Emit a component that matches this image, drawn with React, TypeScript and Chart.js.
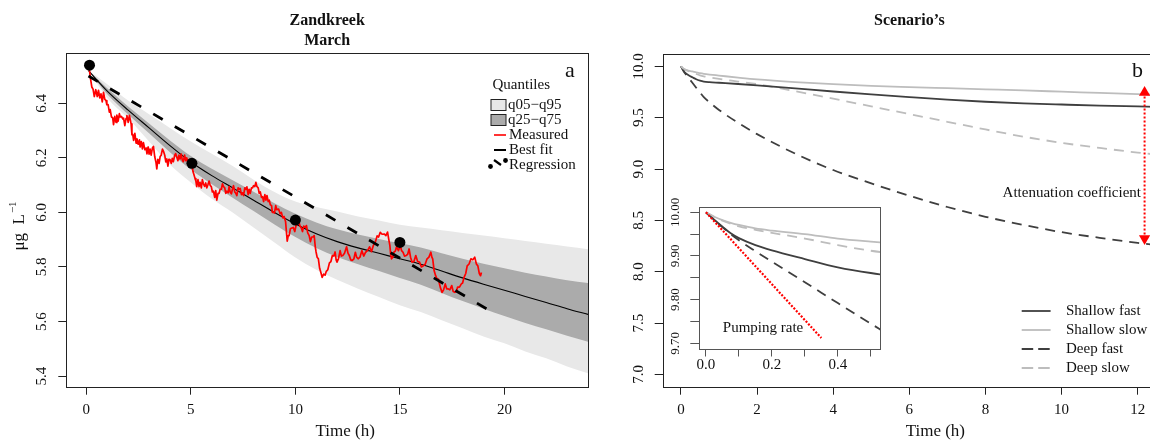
import React, { useEffect, useRef } from 'react';
import { Chart, registerables } from 'chart.js';

Chart.register(...registerables);

const SERIF = "'Liberation Serif', 'Times New Roman', Times, serif";
const INK = '#111111';

// ---------------- Panel a : Zandkreek, March ----------------
const bandTime = [0.1, 1, 2, 3, 4, 5, 6, 7, 8, 9, 10, 11, 12, 13, 14, 15, 16, 17, 18, 19, 20, 21, 22, 23, 24];
const bestFit = [6.52, 6.445, 6.375, 6.31, 6.245, 6.185, 6.135, 6.09, 6.045, 6.0, 5.958, 5.922, 5.893, 5.87, 5.85, 5.83, 5.81, 5.785, 5.76, 5.737, 5.715, 5.692, 5.67, 5.647, 5.626];
const q95 = [6.52, 6.47, 6.41, 6.36, 6.31, 6.26, 6.215, 6.17, 6.12, 6.075, 6.04, 6.02, 6.003, 5.985, 5.97, 5.955, 5.945, 5.935, 5.925, 5.915, 5.905, 5.895, 5.885, 5.875, 5.865];
const q75 = [6.52, 6.455, 6.388, 6.326, 6.264, 6.207, 6.16, 6.118, 6.076, 6.034, 5.995, 5.963, 5.938, 5.919, 5.903, 5.887, 5.871, 5.85, 5.83, 5.812, 5.795, 5.779, 5.765, 5.751, 5.741];
const q25 = [6.52, 6.433, 6.359, 6.29, 6.221, 6.157, 6.103, 6.054, 6.005, 5.956, 5.91, 5.87, 5.837, 5.81, 5.785, 5.76, 5.735, 5.705, 5.675, 5.647, 5.62, 5.595, 5.572, 5.548, 5.526];
const q05 = [6.52, 6.42, 6.345, 6.26, 6.175, 6.11, 6.05, 6.0, 5.945, 5.89, 5.835, 5.79, 5.753, 5.72, 5.69, 5.66, 5.635, 5.605, 5.575, 5.545, 5.52, 5.49, 5.465, 5.435, 5.41];

const measured: [number, number][] = [
  [0.10, 6.54], [0.15, 6.52], [0.20, 6.49], [0.26, 6.46], [0.32, 6.452], [0.38, 6.425], [0.45, 6.45], [0.52, 6.425],
  [0.58, 6.448], [0.64, 6.42], [0.70, 6.435], [0.76, 6.405], [0.82, 6.44], [0.88, 6.415], [0.94, 6.41], [0.98, 6.395],
  [1.04, 6.395], [1.10, 6.368], [1.14, 6.377], [1.20, 6.35], [1.26, 6.347], [1.30, 6.322], [1.36, 6.352], [1.42, 6.33],
  [1.46, 6.357], [1.52, 6.335], [1.58, 6.362], [1.62, 6.35], [1.68, 6.352], [1.74, 6.343], [1.78, 6.346], [1.84, 6.318],
  [1.90, 6.345], [1.94, 6.355], [2.00, 6.33], [2.06, 6.356], [2.10, 6.34], [2.14, 6.325], [2.18, 6.285], [2.22, 6.286],
  [2.26, 6.264], [2.32, 6.29], [2.38, 6.254], [2.42, 6.27], [2.48, 6.25], [2.54, 6.266], [2.57, 6.24], [2.63, 6.26],
  [2.68, 6.233], [2.73, 6.256], [2.80, 6.23], [2.86, 6.236], [2.90, 6.215], [2.96, 6.24], [3.00, 6.214], [3.05, 6.232],
  [3.10, 6.21], [3.16, 6.236], [3.21, 6.242], [3.27, 6.205], [3.33, 6.184], [3.37, 6.16], [3.42, 6.195], [3.48, 6.18],
  [3.53, 6.205], [3.58, 6.21], [3.64, 6.232], [3.69, 6.224], [3.75, 6.21], [3.80, 6.185], [3.85, 6.196], [3.90, 6.17],
  [3.95, 6.195], [4.00, 6.194], [4.06, 6.18], [4.11, 6.198], [4.16, 6.186], [4.22, 6.208], [4.27, 6.216], [4.32, 6.204],
  [4.38, 6.19], [4.43, 6.21], [4.48, 6.196], [4.54, 6.214], [4.59, 6.192], [4.64, 6.186], [4.70, 6.21], [4.75, 6.19],
  [4.80, 6.2], [4.86, 6.18], [4.92, 6.195], [4.98, 6.17], [5.04, 6.184], [5.10, 6.15], [5.16, 6.135], [5.20, 6.124],
  [5.24, 6.115], [5.28, 6.095], [5.34, 6.12], [5.39, 6.095], [5.44, 6.11], [5.50, 6.09], [5.55, 6.12], [5.60, 6.105],
  [5.66, 6.096], [5.71, 6.108], [5.76, 6.09], [5.82, 6.103], [5.87, 6.115], [5.92, 6.1], [5.98, 6.094], [6.03, 6.075],
  [6.08, 6.078], [6.14, 6.055], [6.19, 6.08], [6.24, 6.045], [6.30, 6.07], [6.35, 6.07], [6.40, 6.085], [6.46, 6.085],
  [6.51, 6.105], [6.56, 6.095], [6.62, 6.09], [6.67, 6.07], [6.72, 6.078], [6.78, 6.072], [6.83, 6.095], [6.88, 6.075],
  [6.94, 6.068], [6.99, 6.086], [7.04, 6.098], [7.10, 6.075], [7.15, 6.07], [7.20, 6.062], [7.26, 6.09], [7.31, 6.085],
  [7.36, 6.088], [7.42, 6.065], [7.47, 6.072], [7.52, 6.062], [7.58, 6.09], [7.63, 6.085], [7.68, 6.094], [7.74, 6.065],
  [7.79, 6.085], [7.84, 6.07], [7.90, 6.09], [7.95, 6.09], [8.00, 6.098], [8.06, 6.095], [8.11, 6.11], [8.16, 6.095],
  [8.22, 6.09], [8.27, 6.07], [8.32, 6.075], [8.38, 6.055], [8.43, 6.058], [8.48, 6.04], [8.54, 6.065], [8.59, 6.045],
  [8.64, 6.062], [8.70, 6.04], [8.75, 6.045], [8.80, 6.028], [8.86, 6.025], [8.90, 6.0], [8.95, 6.001], [9.00, 5.998],
  [9.06, 6.025], [9.11, 6.01], [9.20, 6.012], [9.27, 5.995], [9.33, 6.0], [9.40, 5.98], [9.46, 5.985], [9.53, 5.967],
  [9.57, 5.93], [9.61, 5.895], [9.66, 5.915], [9.70, 5.915], [9.76, 5.94], [9.83, 5.943], [9.90, 5.945], [9.97, 5.93],
  [10.04, 5.955], [10.10, 5.955], [10.16, 5.97], [10.22, 5.95], [10.28, 5.944], [10.34, 5.93], [10.40, 5.95], [10.47, 5.945],
  [10.53, 5.952], [10.59, 5.925], [10.66, 5.915], [10.72, 5.893], [10.78, 5.91], [10.84, 5.91], [10.90, 5.915], [10.95, 5.875],
  [10.99, 5.855], [11.04, 5.836], [11.10, 5.83], [11.16, 5.795], [11.22, 5.78], [11.28, 5.762], [11.35, 5.774], [11.42, 5.77],
  [11.48, 5.784], [11.55, 5.79], [11.63, 5.815], [11.70, 5.82], [11.77, 5.842], [11.84, 5.84], [11.90, 5.855], [11.95, 5.826],
  [11.99, 5.818], [12.06, 5.83], [12.14, 5.86], [12.20, 5.84], [12.27, 5.842], [12.35, 5.85], [12.45, 5.874], [12.52, 5.85],
  [12.58, 5.842], [12.65, 5.826], [12.72, 5.824], [12.80, 5.83], [12.87, 5.854], [12.93, 5.836], [13.00, 5.83], [13.09, 5.836],
  [13.18, 5.86], [13.27, 5.84], [13.36, 5.854], [13.45, 5.86], [13.55, 5.874], [13.64, 5.856], [13.73, 5.879], [13.82, 5.89],
  [13.91, 5.914], [13.98, 5.91], [14.06, 5.927], [14.15, 5.92], [14.25, 5.921], [14.33, 5.915], [14.41, 5.928], [14.47, 5.9],
  [14.52, 5.879], [14.56, 5.846], [14.60, 5.83], [14.66, 5.836], [14.71, 5.854], [14.78, 5.858], [14.84, 5.874], [14.93, 5.86],
  [15.02, 5.879], [15.08, 5.86], [15.15, 5.854], [15.22, 5.84], [15.30, 5.842], [15.37, 5.846], [15.44, 5.866], [15.51, 5.836],
  [15.58, 5.818], [15.67, 5.82], [15.76, 5.842], [15.85, 5.82], [15.94, 5.818], [16.03, 5.8], [16.12, 5.804], [16.21, 5.81],
  [16.30, 5.83], [16.39, 5.836], [16.48, 5.854], [16.53, 5.836], [16.57, 5.83], [16.64, 5.786], [16.71, 5.768], [16.78, 5.756],
  [16.84, 5.756], [16.93, 5.726], [17.02, 5.707], [17.09, 5.716], [17.17, 5.738], [17.24, 5.72], [17.30, 5.72], [17.39, 5.716],
  [17.48, 5.732], [17.55, 5.71], [17.63, 5.707], [17.70, 5.71], [17.76, 5.726], [17.85, 5.726], [17.94, 5.738], [18.00, 5.741],
  [18.07, 5.762], [18.15, 5.776], [18.22, 5.804], [18.31, 5.811], [18.40, 5.83], [18.49, 5.826], [18.58, 5.836], [18.66, 5.811],
  [18.73, 5.804], [18.80, 5.776], [18.86, 5.768], [18.90, 5.78],
];

const regressionTime = [0.1, 19.3];
const regressionValue = [6.5, 5.64];
const sampleTime = [0.15, 5.05, 10.0, 15.0];
const sampleValue = [6.54, 6.18, 5.972, 5.89];

const leftXTicks = [0, 5, 10, 15, 20];
const leftYTicks = [5.4, 5.6, 5.8, 6.0, 6.2, 6.4];
const leftYLabels = ['5.4', '5.6', '5.8', '6.0', '6.2', '6.4'];

// ---------------- Panel b : Scenario's ----------------
const scenTime = [0, 0.025, 0.05, 0.075, 0.1, 0.15, 0.2, 0.3, 0.4, 0.5, 0.6, 0.75, 1, 1.5, 2, 3, 4, 5, 6, 7, 8, 9, 10, 11, 12, 12.5];
const shallowFast = [10, 9.983, 9.967, 9.952, 9.941, 9.925, 9.913, 9.893, 9.874, 9.861, 9.852, 9.846, 9.84, 9.828, 9.815, 9.785, 9.755, 9.727, 9.7, 9.675, 9.655, 9.64, 9.628, 9.617, 9.609, 9.605];
const shallowSlow = [10, 9.99, 9.982, 9.976, 9.971, 9.963, 9.958, 9.95, 9.94, 9.933, 9.927, 9.92, 9.91, 9.89, 9.872, 9.846, 9.826, 9.81, 9.798, 9.787, 9.776, 9.765, 9.753, 9.741, 9.729, 9.723];
const deepFast = [10, 9.983, 9.966, 9.95, 9.936, 9.911, 9.887, 9.84, 9.792, 9.745, 9.7, 9.65, 9.575, 9.45, 9.34, 9.15, 8.99, 8.86, 8.74, 8.63, 8.535, 8.455, 8.385, 8.33, 8.28, 8.26];
const deepSlow = [10, 9.99, 9.981, 9.974, 9.968, 9.96, 9.953, 9.94, 9.925, 9.912, 9.903, 9.893, 9.878, 9.852, 9.826, 9.758, 9.685, 9.61, 9.535, 9.46, 9.385, 9.315, 9.255, 9.205, 9.16, 9.14];

const pumpTime = [0, 0.35];
const pumpValue = [10, 9.712];
const attenTime = [12.18, 12.18];
const attenValue = [9.745, 8.324];

const rightXTicks = [0, 2, 4, 6, 8, 10, 12];
const rightYTicks = [7, 7.5, 8, 8.5, 9, 9.5, 10];
const rightYLabels = ['7.0', '7.5', '8.0', '8.5', '9.0', '9.5', '10.0'];
const insetXTicks = [0, 0.1, 0.2, 0.3, 0.4, 0.5];
const insetXLabels = ['0.0', '', '0.2', '', '0.4', ''];
const insetYTicks = [9.7, 9.75, 9.8, 9.85, 9.9, 9.95, 10];
const insetYLabels = ['9.70', '', '9.80', '', '9.90', '', '10.00'];

const legendNames = ['Shallow fast', 'Shallow slow', 'Deep fast', 'Deep slow'];

const DARK = '#3f3f3f';
const LIGHT = '#bdbdbd';
const RED = '#ff0000';

// ---------------- helpers ----------------
const pts = (xs: number[], ys: number[]) => xs.map((x, i) => ({ x, y: ys[i] }));

function axis(cfg: {
  min: number; max: number; ticks: number[]; labels?: string[]; horizontal: boolean;
  size: number; tickLength: number; color: string; fontSize?: number; padding?: number;
}) {
  return {
    type: 'linear',
    bounds: 'data',
    min: cfg.min,
    max: cfg.max,
    afterBuildTicks: (s: any) => { s.ticks = cfg.ticks.map((v) => ({ value: v })); },
    afterFit: (s: any) => { if (cfg.horizontal) s.height = cfg.size; else s.width = cfg.size; },
    border: { display: false },
    grid: { display: true, drawOnChartArea: false, drawTicks: true, tickLength: cfg.tickLength, color: cfg.color, lineWidth: 1 },
    ticks: {
      display: cfg.horizontal,
      autoSkip: false, maxRotation: 0, minRotation: 0,
      padding: cfg.padding ?? 6,
      color: INK,
      font: { family: SERIF, size: cfg.fontSize ?? 15, lineHeight: 1.2 },
      callback: (_v: any, i: number) => (cfg.labels ? cfg.labels[i] : String(cfg.ticks[i])),
    },
  };
}

const boxPlugin = (color: string, width: number) => ({
  id: 'rbox',
  afterDatasetsDraw(chart: any) {
    const { left, top, right, bottom } = chart.chartArea;
    const ctx = chart.ctx;
    ctx.save();
    ctx.strokeStyle = color;
    ctx.lineWidth = width;
    const l = Math.round(left) + 0.5, t = Math.round(top) + 0.5;
    const r = Math.round(right) + 0.5, b = Math.round(bottom) + 0.5;
    ctx.strokeRect(l, t, r - l, b - t);
    ctx.restore();
  },
});

const yLabelsPlugin = (labels: string[], fontSize: number, gap: number) => ({
  id: 'rylabels',
  afterDraw(chart: any) {
    const s = chart.scales.y;
    const ctx = chart.ctx;
    ctx.save();
    ctx.font = `${fontSize}px ${SERIF}`;
    ctx.fillStyle = INK;
    ctx.textAlign = 'center';
    ctx.textBaseline = 'middle';
    s.ticks.forEach((t: any, i: number) => {
      const lab = labels[i];
      if (!lab) return;
      const py = s.getPixelForValue(t.value);
      ctx.save();
      ctx.translate(chart.chartArea.left - gap, py);
      ctx.rotate(-Math.PI / 2);
      ctx.fillText(lab, 0, 0);
      ctx.restore();
    });
    ctx.restore();
  },
});

const panelAPlugin = {
  id: 'panelA',
  afterDraw(chart: any) {
    const ctx = chart.ctx;
    const { left, right } = chart.chartArea;
    ctx.save();
    ctx.fillStyle = INK;
    ctx.font = `17px ${SERIF}`;
    ctx.textAlign = 'center';
    ctx.textBaseline = 'middle';
    ctx.fillText('Time (h)', (left + right) / 2 + 18, 432);

    // y-axis title
    ctx.save();
    ctx.translate(20, 226);
    ctx.rotate(-Math.PI / 2);
    const main = 'μg  L';
    const sup = '−1';
    ctx.font = `17px ${SERIF}`;
    const w1 = ctx.measureText(main).width;
    ctx.font = `11px ${SERIF}`;
    const w2 = ctx.measureText(sup).width;
    const x0 = -(w1 + w2 + 1) / 2;
    ctx.textAlign = 'left';
    ctx.font = `17px ${SERIF}`;
    ctx.fillText(main, x0, 0);
    ctx.font = `11px ${SERIF}`;
    ctx.fillText(sup, x0 + w1 + 1, -7);
    ctx.restore();

    // panel letter
    ctx.font = `22px ${SERIF}`;
    ctx.textAlign = 'center';
    ctx.textBaseline = 'alphabetic';
    ctx.fillText('a', 570, 76.5);

    // legend
    ctx.font = `15px ${SERIF}`;
    ctx.textAlign = 'left';
    ctx.textBaseline = 'middle';
    ctx.fillText('Quantiles', 492.5, 85);
    ctx.lineWidth = 1;
    ctx.strokeStyle = '#222';
    ctx.fillStyle = '#e8e8e8';
    ctx.fillRect(491, 99.5, 15, 11);
    ctx.strokeRect(491, 99.5, 15, 11);
    ctx.fillStyle = '#ababab';
    ctx.fillRect(491, 114.5, 15, 11);
    ctx.strokeRect(491, 114.5, 15, 11);
    ctx.fillStyle = INK;
    ctx.fillText('q05−q95', 508, 105);
    ctx.fillText('q25−q75', 508, 120);

    ctx.strokeStyle = RED;
    ctx.lineWidth = 1.6;
    ctx.beginPath(); ctx.moveTo(494, 135); ctx.lineTo(506, 135); ctx.stroke();
    ctx.fillText('Measured', 509, 135);

    ctx.strokeStyle = '#000';
    ctx.lineWidth = 2;
    ctx.beginPath(); ctx.moveTo(494, 150); ctx.lineTo(506, 150); ctx.stroke();
    ctx.fillText('Best fit', 509, 150);

    ctx.fillStyle = '#000';
    ctx.beginPath(); ctx.arc(490.5, 166.5, 2.4, 0, Math.PI * 2); ctx.fill();
    ctx.beginPath(); ctx.arc(505.5, 160.5, 2.4, 0, Math.PI * 2); ctx.fill();
    ctx.lineWidth = 2.2;
    ctx.beginPath(); ctx.moveTo(494, 160); ctx.lineTo(501, 165); ctx.stroke();
    ctx.fillStyle = INK;
    ctx.fillText('Regression', 509, 165.5);
    ctx.restore();
  },
};

const panelBPlugin = {
  id: 'panelB',
  afterDraw(chart: any) {
    const ctx = chart.ctx;
    const { left, right } = chart.chartArea;
    ctx.save();
    ctx.fillStyle = INK;
    ctx.font = `17px ${SERIF}`;
    ctx.textAlign = 'center';
    ctx.textBaseline = 'middle';
    ctx.fillText('Time (h)', (left + right) / 2 + 26, 432);

    ctx.font = `22px ${SERIF}`;
    ctx.textBaseline = 'alphabetic';
    ctx.fillText('b', 537.5, 77);

    ctx.font = `15px ${SERIF}`;
    ctx.textAlign = 'right';
    ctx.textBaseline = 'middle';
    ctx.fillText('Attenuation coefficient', 541, 193.5);

    const styles = [
      { c: DARK, d: [] as number[] },
      { c: LIGHT, d: [] as number[] },
      { c: DARK, d: [11.5, 5] },
      { c: LIGHT, d: [11.5, 5] },
    ];
    const ys = [311, 330, 349, 368];
    ctx.textAlign = 'left';
    legendNames.forEach((name, i) => {
      ctx.strokeStyle = styles[i].c;
      ctx.lineWidth = 1.8;
      ctx.setLineDash(styles[i].d);
      ctx.beginPath(); ctx.moveTo(421.7, ys[i]); ctx.lineTo(450.6, ys[i]); ctx.stroke();
      ctx.setLineDash([]);
      ctx.fillStyle = INK;
      ctx.fillText(name, 466, ys[i]);
    });
    ctx.restore();
  },
};

const insetPlugin = {
  id: 'insetText',
  afterDraw(chart: any) {
    const ctx = chart.ctx;
    ctx.save();
    ctx.fillStyle = INK;
    ctx.font = `15px ${SERIF}`;
    ctx.textAlign = 'center';
    ctx.textBaseline = 'middle';
    ctx.fillText('Pumping rate', 98, 133);
    ctx.restore();
  },
};

const scenarioSets = (width: number, dash: number[]) => [
  { data: pts(scenTime, shallowSlow), borderColor: LIGHT, borderWidth: width, cubicInterpolationMode: 'monotone' },
  { data: pts(scenTime, shallowFast), borderColor: DARK, borderWidth: width, cubicInterpolationMode: 'monotone' },
  { data: pts(scenTime, deepSlow), borderColor: LIGHT, borderWidth: width, borderDash: dash, cubicInterpolationMode: 'monotone' },
  { data: pts(scenTime, deepFast), borderColor: DARK, borderWidth: width, borderDash: dash, cubicInterpolationMode: 'monotone' },
];

export default function App() {
  const aRef = useRef<HTMLCanvasElement | null>(null);
  const bRef = useRef<HTMLCanvasElement | null>(null);
  const cRef = useRef<HTMLCanvasElement | null>(null);

  useEffect(() => {
    const common = {
      responsive: false,
      animation: false,
      devicePixelRatio: 1,
      events: [] as any[],
      elements: { point: { radius: 0 }, line: { tension: 0 } },
    };

    const chartA = new Chart(aRef.current as HTMLCanvasElement, {
      type: 'line',
      data: {
        datasets: [
          { data: pts(sampleTime, sampleValue), showLine: false, pointRadius: 5.5, pointBackgroundColor: '#000', pointBorderWidth: 0 },
          { data: pts(regressionTime, regressionValue), borderColor: '#000', borderWidth: 2.8, borderDash: [11, 14] },
          { data: measured.map(([x, y]) => ({ x, y })), borderColor: RED, borderWidth: 1.7, borderJoinStyle: 'round' },
          { data: pts(bandTime, bestFit), borderColor: '#000', borderWidth: 1.1, cubicInterpolationMode: 'monotone' },
          { data: pts(bandTime, q75), borderWidth: 0, borderColor: 'rgba(0,0,0,0)', backgroundColor: '#ababab', fill: '+1', cubicInterpolationMode: 'monotone' },
          { data: pts(bandTime, q25), borderWidth: 0, borderColor: 'rgba(0,0,0,0)', fill: false, cubicInterpolationMode: 'monotone' },
          { data: pts(bandTime, q95), borderWidth: 0, borderColor: 'rgba(0,0,0,0)', backgroundColor: '#e8e8e8', fill: '+1', cubicInterpolationMode: 'monotone' },
          { data: pts(bandTime, q05), borderWidth: 0, borderColor: 'rgba(0,0,0,0)', fill: false, cubicInterpolationMode: 'monotone' },
        ],
      },
      options: {
        ...common,
        layout: { padding: { left: 0, right: 12, top: 0, bottom: 0 } },
        plugins: {
          legend: { display: false },
          tooltip: { enabled: false },
          title: {
            display: true, text: ['Zandkreek', 'March'], color: INK, fullSize: false,
            font: { family: SERIF, size: 16, weight: 'bold', lineHeight: 1.25 },
            padding: { top: 10.7, bottom: 2.6 },
          },
        },
        scales: {
          x: axis({ min: -0.96, max: 24.0, ticks: leftXTicks, horizontal: true, size: 55.3, tickLength: 8, color: '#222' }),
          y: axis({ min: 5.361, max: 6.5835, ticks: leftYTicks, horizontal: false, size: 66.3, tickLength: 8, color: '#222' }),
        },
      },
      plugins: [boxPlugin('#222', 1), yLabelsPlugin(leftYLabels, 15, 24.3), panelAPlugin],
    } as any);

    const chartB = new Chart(bRef.current as HTMLCanvasElement, {
      type: 'line',
      data: {
        datasets: [
          {
            data: pts(attenTime, attenValue), borderColor: RED, borderWidth: 2, borderDash: [2, 2],
            pointStyle: 'triangle', pointRadius: 6.5, pointBackgroundColor: RED, pointBorderColor: RED,
            pointBorderWidth: 0, pointRotation: [0, 180],
          },
          ...scenarioSets(1.8, [10, 7]),
        ],
      },
      options: {
        ...common,
        layout: { padding: { left: 0, right: 14, top: 0, bottom: 0 } },
        plugins: {
          legend: { display: false },
          tooltip: { enabled: false },
          title: {
            display: true, text: 'Scenario’s', color: INK, fullSize: false,
            font: { family: SERIF, size: 16, weight: 'bold', lineHeight: 1.25 },
            padding: { top: 10.7, bottom: 23.3 },
          },
        },
        scales: {
          x: axis({ min: -0.48, max: 12.48, ticks: rightXTicks, horizontal: true, size: 55.3, tickLength: 8, color: '#222' }),
          y: axis({ min: 6.88, max: 10.12, ticks: rightYTicks, horizontal: false, size: 62.7, tickLength: 8, color: '#222' }),
        },
      },
      plugins: [boxPlugin('#222', 1), yLabelsPlugin(rightYLabels, 15, 23.7), panelBPlugin],
    } as any);

    const chartC = new Chart(cRef.current as HTMLCanvasElement, {
      type: 'line',
      data: {
        datasets: [
          { data: pts(pumpTime, pumpValue), borderColor: RED, borderWidth: 2.2, borderDash: [2, 1.6] },
          ...scenarioSets(1.8, [10, 7]),
        ],
      },
      options: {
        ...common,
        layout: { padding: { left: 0, right: 5, top: 12.1, bottom: 0 } },
        plugins: { legend: { display: false }, tooltip: { enabled: false }, title: { display: false } },
        scales: {
          x: axis({ min: -0.0203, max: 0.528, ticks: insetXTicks, labels: insetXLabels, horizontal: true, size: 26.5, tickLength: 8, color: '#555', padding: 0 }),
          y: axis({ min: 9.688, max: 10.012, ticks: insetYTicks, labels: insetYLabels, horizontal: false, size: 34.3, tickLength: 9, color: '#555' }),
        },
      },
      plugins: [boxPlugin('#555', 1), yLabelsPlugin(insetYLabels, 13, 23.3), insetPlugin],
    } as any);

    return () => {
      chartA.destroy();
      chartB.destroy();
      chartC.destroy();
    };
  }, []);

  return (
    <div style={{ position: 'absolute', left: 0, top: 0, width: 1150, height: 442, overflow: 'hidden', background: '#ffffff' }}>
      <canvas ref={aRef} width={600} height={442} style={{ position: 'absolute', left: 0, top: 0, width: 600, height: 442 }} />
      <canvas ref={bRef} width={570} height={442} style={{ position: 'absolute', left: 600, top: 0, width: 570, height: 442 }} />
      <canvas ref={cRef} width={220} height={180} style={{ position: 'absolute', left: 665, top: 195, width: 220, height: 180 }} />
    </div>
  );
}
